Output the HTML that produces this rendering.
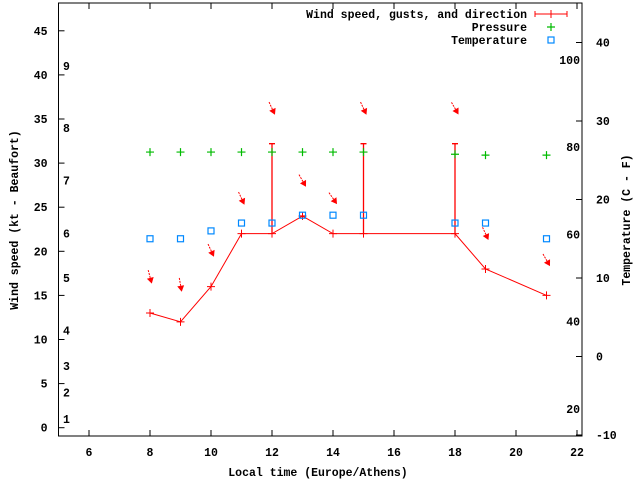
<!DOCTYPE html>
<html><head><meta charset="utf-8"><style>
body{margin:0;background:#fff}
svg text{font-family:"Liberation Mono",monospace;font-weight:bold;font-size:11.5px;fill:#000}
</style></head><body>
<svg width="640" height="480" viewBox="0 0 640 480">
<g id="g"></g>
</svg>
<script>
const hours=[8,9,10,11,12,13,14,15,18,19,21];
const wind=[13,12,16,22,22,24,22,22,22,18,15];
const gusts=[null,null,null,null,32.2,24,null,32.2,32.2,null,null];
const pressure=[31.25,31.25,31.25,31.25,31.25,31.25,31.25,31.25,31.0,30.9,30.9];
const tempC=[15,15,16,17,17,18,18,18,17,17,15];
const arrowKt=[17.1,16.2,20.1,26,36.2,28,26,36.2,36.2,22,19];
const arrowDir=[15,10,25,25,25,30,35,25,30,25,30];
const xTicks=[6,8,10,12,14,16,18,20,22];
const yTicks=[0,5,10,15,20,25,30,35,40,45];
const y2Ticks=[-10,0,10,20,30,40];
const bftKt=[1,4,7,11,17,22,28,34,41];
const bftLabels=["1","2","3","4","5","6","7","8","9"];
const fTicks=[20,40,60,80,100];

const L=58.5,R=582,T=3,B=436;
const X=h=>58.5+(h-5)*30.5;
const Y=v=>427.7-v*8.82;
const Y2=c=>435-(c+10)*7.85;
const NS="http://www.w3.org/2000/svg";
const g=document.getElementById('g');
function mk(t,a,txt){const e=document.createElementNS(NS,t);for(const k in a)e.setAttribute(k,a[k]);if(txt!==undefined)e.textContent=txt;g.appendChild(e);return e;}

let e;
e=mk('rect',{x:L,y:T,width:R-L,height:B-T,fill:'none',stroke:'#000','stroke-width':1});



xTicks.forEach(h=>{
  e=mk('path',{d:`M${X(h)} ${B}v-6M${X(h)} ${T}v6`,stroke:'#000'});
  
  
  e=mk('text',{x:X(h),y:B+20,'text-anchor':'middle'},String(h));
  
  
});
yTicks.forEach(v=>{
  e=mk('path',{d:`M${L} ${Y(v)}h6`,stroke:'#000'});
  
  
  e=mk('text',{x:L-11,y:Y(v)+4,'text-anchor':'end'},String(v));
  
  
});
y2Ticks.forEach(c=>{
  e=mk('path',{d:`M${R} ${Y2(c)}h-6`,stroke:'#000'});
  
  
  e=mk('text',{x:R+14,y:Y2(c)+4,'text-anchor':'start'},String(c));
  
  
});
bftKt.forEach((k,i)=>{
  e=mk('text',{x:63,y:Y(k)+4},bftLabels[i]);
  
  
});
fTicks.forEach(f=>{
  e=mk('text',{x:580,y:Y2((f-32)*5/9)+4,'text-anchor':'end'},String(f));
  
  
});

e=mk('text',{x:318,y:476,'text-anchor':'middle'},'Local time (Europe/Athens)');


e=mk('text',{x:0,y:0,'text-anchor':'middle',transform:'translate(18,220) rotate(-90)'},'Wind speed (kt - Beaufort)');


e=mk('text',{x:0,y:0,'text-anchor':'middle',transform:'translate(630,220) rotate(-90)'},'Temperature (C - F)');



// wind line
e=mk('polyline',{points:hours.map((h,i)=>X(h)+','+Y(wind[i])).join(' '),fill:'none',stroke:'#f00','stroke-width':1});


hours.forEach((h,i)=>{
  const x=X(h),y=Y(wind[i]);
  e=mk('path',{d:`M${x-4} ${y}h8M${x} ${y-4}v8`,stroke:'#f00'});
  
  
  if(gusts[i]!==null){
    const gy=Y(gusts[i]);
    e=mk('path',{d:`M${x} ${y}V${gy}M${x-3} ${gy}h6`,stroke:'#f00','stroke-width':1.3});
    
    
  }
  // pressure
  const py=Y(pressure[i]);
  e=mk('path',{d:`M${x-4} ${py}h8M${x} ${py-4}v8`,stroke:'#0b0','stroke-width':1.2});
  
  
  // temperature
  const ty=Y2(tempC[i]);
  e=mk('rect',{x:x-3,y:ty-3,width:6,height:6,fill:'none',stroke:'#08f','stroke-width':1.2});
  
  
  // direction arrow
  const ay=Y(arrowKt[i]),a=arrowDir[i]*Math.PI/180;
  const dx=Math.sin(a)*7,dy=Math.cos(a)*7;
  const x1=x-dx,y1=ay-dy,x2=x+dx,y2=ay+dy;
  const ux=dx/7,uy=dy/7;
  e=mk('line',{x1:x1,y1:y1,x2:x2-ux*4,y2:y2-uy*4,stroke:'#f00','stroke-width':1,'stroke-dasharray':'2 1'});
  
  
  e=mk('polygon',{points:`${x2},${y2} ${x2-ux*6-uy*3.5},${y2-uy*6+ux*3.5} ${x2-ux*6+uy*3.5},${y2-uy*6-ux*3.5}`,fill:'#f00'});
  
  
});

// legend
e=mk('text',{x:527,y:18,'text-anchor':'end'},'Wind speed, gusts, and direction');


e=mk('path',{d:'M535 14h32M535 11v6M567 11v6M551 10v8',stroke:'#f00'});


e=mk('text',{x:527,y:31,'text-anchor':'end'},'Pressure');


e=mk('path',{d:'M547 27h8M551 23v8',stroke:'#0b0','stroke-width':1.2});


e=mk('text',{x:527,y:44,'text-anchor':'end'},'Temperature');


e=mk('rect',{x:548,y:37,width:6,height:6,fill:'none',stroke:'#08f','stroke-width':1.2});


</script>
</body></html>
